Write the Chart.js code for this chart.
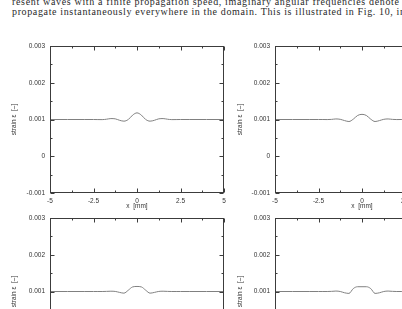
<!DOCTYPE html>
<html>
<head>
<meta charset="utf-8">
<script src="https://cdn.jsdelivr.net/npm/chart.js@4"></script>
<style>
  html, body { margin: 0; padding: 0; background: #fff; }
  body { width: 402px; height: 309px; overflow: hidden; position: relative; }
  canvas { position: absolute; }
  svg.hdr { position: absolute; left: 0; top: 0; }
</style>
</head>
<body>
<svg class="hdr" width="402" height="20">
  <text x="12" y="5" font-family="Liberation Serif" font-size="10" fill="#2a2a2a" textLength="387" lengthAdjust="spacing">resent waves with a finite propagation speed, imaginary angular frequencies denote</text>
  <text x="12" y="15" font-family="Liberation Serif" font-size="10" fill="#2a2a2a" textLength="393" lengthAdjust="spacing">propagate instantaneously everywhere in the domain. This is illustrated in Fig. 10, in</text>
</svg>
<canvas id="c1" width="250" height="179" style="left:0px;top:36px"></canvas>
<canvas id="c2" width="250" height="179" style="left:225px;top:36px"></canvas>
<canvas id="c3" width="250" height="179" style="left:0px;top:208px"></canvas>
<canvas id="c4" width="250" height="179" style="left:225px;top:208px"></canvas>
<script>
// ---- data ----
const xPos = [-5, -4, -3, -2.5, -2.25, -2, -1.75, -1.5, -1.25, -1, -0.75, -0.5, -0.25, 0,
              0.25, 0.5, 0.75, 1, 1.25, 1.5, 1.75, 2, 2.25, 2.5, 3, 4, 5];
const strainA = [0.001, 0.001, 0.001, 0.001, 0.000998, 0.000997, 0.001008, 0.001025, 0.001018, 0.000978, 0.000955, 0.001000, 0.001120, 0.001180,
                 0.001120, 0.001000, 0.000955, 0.000978, 0.001018, 0.001025, 0.001008, 0.000997, 0.000998, 0.001, 0.001, 0.001, 0.001];
const strainB = [0.001, 0.001, 0.001, 0.001, 0.001, 0.000998, 0.001003, 0.001015, 0.001005, 0.000970, 0.000945, 0.001010, 0.001110, 0.001140,
                 0.001110, 0.001010, 0.000945, 0.000970, 0.001005, 0.001015, 0.001003, 0.000998, 0.001, 0.001, 0.001, 0.001, 0.001];
const strainC = [0.001, 0.001, 0.001, 0.001, 0.001, 0.001, 0.001003, 0.001008, 0.001002, 0.000975, 0.000955, 0.001035, 0.001125, 0.001137,
                 0.001125, 0.001035, 0.000955, 0.000975, 0.001002, 0.001008, 0.001003, 0.001, 0.001, 0.001, 0.001, 0.001, 0.001];
const strainD = [0.001, 0.001, 0.001, 0.001, 0.001, 0.001, 0.001004, 0.001012, 0.001000, 0.000965, 0.000948, 0.001080, 0.001130, 0.001130,
                 0.001130, 0.001080, 0.000948, 0.000965, 0.001000, 0.001012, 0.001004, 0.001, 0.001, 0.001, 0.001, 0.001, 0.001];

const xTicks = [-5, -2.5, 0, 2.5, 5];
const xTickLabels = ['-5', '-2.5', '0', '2.5', '5'];
const xMinorTicks = [-3.75, -1.25, 1.25, 3.75];
const yTicks = [-0.001, 0, 0.001, 0.002, 0.003];
const yTickLabels = ['-0.001', '0', '0.001', '0.002', '0.003'];
const yMinorTicks = [-0.0005, 0.0005, 0.0015, 0.0025];

const xTitle = 'x  [mm]';
const yTitle = 'strain \u03b5  [\u2013]';

// ---- drawing ----
const frameTicks = {
  id: 'frameTicks',
  afterDraw(chart) {
    const { ctx, chartArea: a, scales: { x, y } } = chart;
    const L = Math.round(a.left) + 0.5, R = Math.round(a.right) - 0.5;
    const T = Math.round(a.top) + 0.5, B = Math.round(a.bottom) - 0.5;
    ctx.save();
    ctx.strokeStyle = '#3c3c3c';
    ctx.lineWidth = 1;
    ctx.strokeRect(L, T, R - L, B - T);
    ctx.beginPath();
    const tx = (v, len) => {
      const p = Math.round(x.getPixelForValue(v)) + 0.5;
      ctx.moveTo(p, B); ctx.lineTo(p, B - len);
      ctx.moveTo(p, T); ctx.lineTo(p, T + len);
    };
    const ty = (v, len) => {
      const p = Math.round(y.getPixelForValue(v)) + 0.5;
      ctx.moveTo(L, p); ctx.lineTo(L + len, p);
      ctx.moveTo(R, p); ctx.lineTo(R - len, p);
    };
    xTicks.forEach(v => tx(v, 4));
    xMinorTicks.forEach(v => tx(v, 2));
    yTicks.forEach(v => ty(v, 4));
    yMinorTicks.forEach(v => ty(v, 2));
    ctx.stroke();
    ctx.restore();
  }
};

const tickFont = { family: 'Liberation Sans', size: 6.5 };

function makeChart(id, values, yTitlePad) {
  new Chart(document.getElementById(id), {
    type: 'line',
    data: {
      datasets: [{
        data: xPos.map((xv, i) => ({ x: xv, y: values[i] })),
        borderColor: '#808080',
        borderWidth: 1,
        pointRadius: 0,
        fill: false,
        cubicInterpolationMode: 'monotone'
      }]
    },
    options: {
      responsive: false,
      animation: false,
      devicePixelRatio: 1,
      layout: { padding: { top: 10, right: 26, left: 0, bottom: 0 } },
      plugins: { legend: { display: false }, tooltip: { enabled: false } },
      scales: {
        x: {
          type: 'linear', min: -5, max: 5,
          afterBuildTicks: s => { s.ticks = xTicks.map(v => ({ value: v })); },
          afterFit: s => { s.height = 22; },
          ticks: { callback: (v, i) => xTickLabels[i], font: tickFont, color: '#333', padding: 4, maxRotation: 0, autoSkip: false },
          grid: { display: false, drawTicks: false },
          border: { display: false },
          title: { display: true, text: xTitle, font: tickFont, color: '#333', padding: { top: 0, bottom: 5 } }
        },
        y: {
          type: 'linear', min: -0.001, max: 0.003,
          afterBuildTicks: s => { s.ticks = yTicks.map(v => ({ value: v })); },
          afterFit: s => { s.width = 50; },
          ticks: { callback: (v, i) => yTickLabels[i], font: tickFont, color: '#333', padding: 5, autoSkip: false },
          grid: { display: false, drawTicks: false },
          border: { display: false },
          title: { display: true, text: yTitle, font: tickFont, color: '#333', padding: { top: yTitlePad, bottom: 0 } }
        }
      }
    },
    plugins: [frameTicks]
  });
}

makeChart('c1', strainA, 10);
makeChart('c2', strainB, 11);
makeChart('c3', strainC, 10);
makeChart('c4', strainD, 11);
</script>
</body>
</html>
